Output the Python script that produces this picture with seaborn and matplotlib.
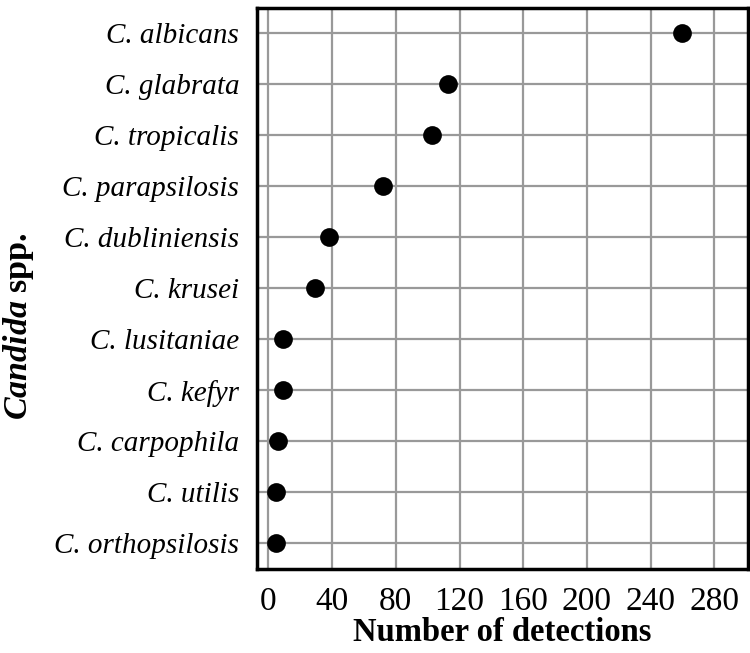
import matplotlib
matplotlib.use("Agg")
import matplotlib.pyplot as plt
import seaborn as sns
import pandas as pd

species = ["C. albicans", "C. glabrata", "C. tropicalis", "C. parapsilosis",
           "C. dubliniensis", "C. krusei", "C. lusitaniae", "C. kefyr",
           "C. carpophila", "C. utilis", "C. orthopsilosis"]
detections = [260, 113, 103, 72, 38, 29, 9, 9, 6, 5, 5]
xticks = [0, 40, 80, 120, 160, 200, 240, 280]

df = pd.DataFrame({"species": species, "n": detections})

sns.set_style("white")
plt.rcParams["font.family"] = ["Liberation Serif", "DejaVu Serif"]
plt.rcParams["text.color"] = "black"
plt.rcParams["axes.labelcolor"] = "black"
plt.rcParams["xtick.color"] = "black"
plt.rcParams["ytick.color"] = "black"
plt.rcParams["mathtext.fontset"] = "custom"
plt.rcParams["mathtext.rm"] = "Liberation Serif"
plt.rcParams["mathtext.it"] = "Liberation Serif:italic"
plt.rcParams["mathtext.bf"] = "Liberation Serif:bold"
plt.rcParams["mathtext.bfit"] = "Liberation Serif:italic:bold"

fig = plt.figure(figsize=(7.5, 6.53), dpi=100)
ax = fig.add_axes([0.343, 0.129, 0.654, 0.859])

sns.stripplot(data=df, x="n", y="species", order=species, jitter=False,
              color="black", size=13.5, ax=ax, zorder=3)

ax.set_xlim(-7, 301)
ax.set_ylim(len(species) - 0.5, -0.5)
ax.set_xticks(xticks)
ax.grid(True, color="#999999", linewidth=1.6)
ax.set_axisbelow(True)
for s in ax.spines.values():
    s.set_visible(True)
    s.set_color("black")
    s.set_linewidth(2.5)
ax.tick_params(axis="both", length=0)
ax.tick_params(axis="x", labelsize=24, pad=13)
ax.tick_params(axis="y", labelsize=21, pad=13)
for lab in ax.get_yticklabels():
    lab.set_fontstyle("italic")

ax.set_xlabel("Number of detections", fontsize=23.5, fontweight="bold", labelpad=0)
ax.set_ylabel(r"$\mathbfit{Candida}$ spp.", fontsize=24.5, fontweight="bold")
ax.yaxis.label.set_va("center")
ax.yaxis.set_label_coords(-0.487, 0.433)

fig.savefig("out.png", dpi=100)
